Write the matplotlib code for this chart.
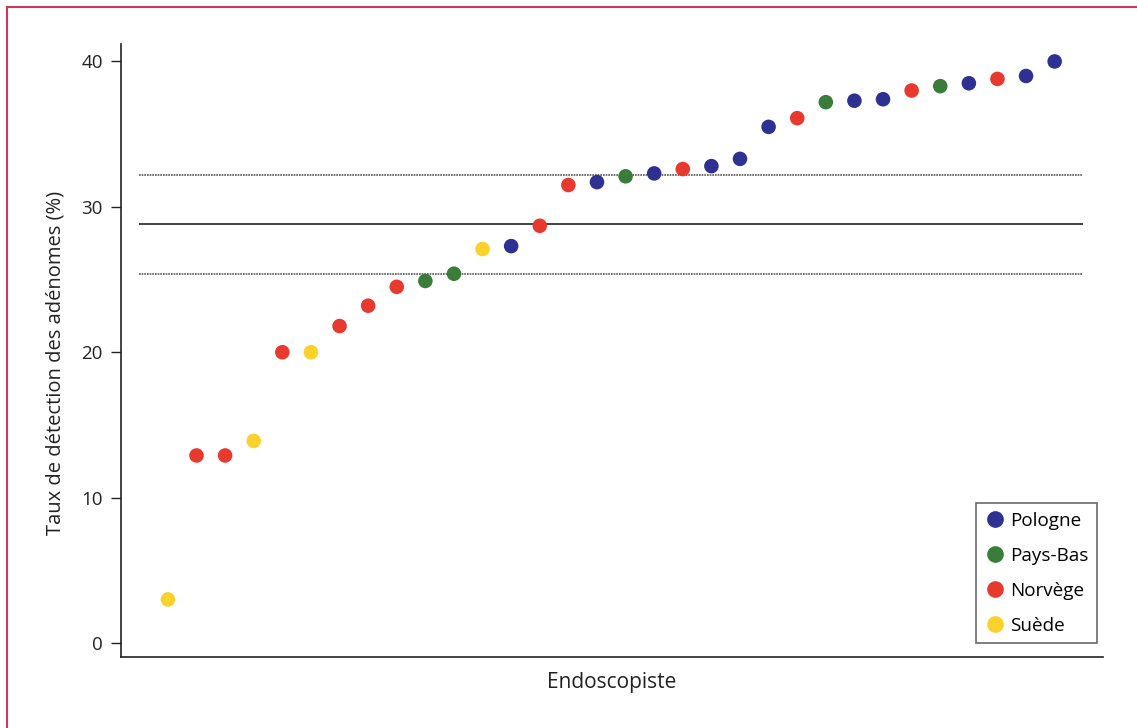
import matplotlib.pyplot as plt
from matplotlib.lines import Line2D

plt.rcParams['font.family'] = ['Open Sans', 'DejaVu Sans']

# taux de detection des adenomes par endoscopiste (%)
taux = [3.0, 12.9, 12.9, 13.9, 20.0, 20.0, 21.8, 23.2, 24.5, 24.9, 25.4, 27.1,
        27.3, 28.7, 31.5, 31.7, 32.1, 32.3, 32.6, 32.8, 33.3, 35.5, 36.1, 37.2,
        37.3, 37.4, 38.0, 38.3, 38.5, 38.8, 39.0, 40.0]
pays = ['Suède', 'Norvège', 'Norvège', 'Suède', 'Norvège', 'Suède', 'Norvège',
        'Norvège', 'Norvège', 'Pays-Bas', 'Pays-Bas', 'Suède', 'Pologne',
        'Norvège', 'Norvège', 'Pologne', 'Pays-Bas', 'Pologne', 'Norvège',
        'Pologne', 'Pologne', 'Pologne', 'Norvège', 'Pays-Bas', 'Pologne',
        'Pologne', 'Norvège', 'Pays-Bas', 'Pologne', 'Norvège', 'Pologne',
        'Pologne']
moyenne = 28.8
ic_bas, ic_haut = 25.4, 32.2

couleurs = {'Pologne': '#2E3192', 'Pays-Bas': '#3A7D3A',
            'Norvège': '#E8392E', 'Suède': '#FBD12B'}
ordre = ['Pologne', 'Pays-Bas', 'Norvège', 'Suède']

fig = plt.figure(figsize=(11.37, 7.28), dpi=100)
ax = fig.add_axes([121/1137, 1 - 657/728, (1103-121)/1137, (657-44)/728])

x = list(range(1, len(taux) + 1))
ax.scatter(x, taux, s=110, c=[couleurs[p] for p in pays], linewidths=0, zorder=3)

ax.hlines(moyenne, 0, 33, color='#222222', lw=1.2)
ax.hlines([ic_bas, ic_haut], 0, 33, color='#555555', lw=1.2, linestyles=(0, (1, 0.6)))

ax.set_xlim(-0.64, 33.69)
ax.set_ylim(-0.96, 41.2)
ax.set_yticks([0, 10, 20, 30, 40])
ax.set_xticks([])
ax.tick_params(axis='y', labelsize=13.5, length=7, width=1, pad=6, colors='#222222')
for s in ['top', 'right']:
    ax.spines[s].set_visible(False)
for s in ['left', 'bottom']:
    ax.spines[s].set_linewidth(1.2)
    ax.spines[s].set_color('#222222')

ax.set_ylabel('Taux de détection des adénomes (%)', fontsize=14.5, color='#222222')
ax.yaxis.set_label_coords(-0.057, 0.48)
ax.set_xlabel('Endoscopiste', fontsize=15, color='#222222', labelpad=11)

handles = [Line2D([], [], marker='o', ls='', color=couleurs[p], markersize=11, label=p)
           for p in ordre]
leg = ax.legend(handles=handles, loc='lower right', bbox_to_anchor=(0.9995, 0.013),
                fontsize=13.6, frameon=True, fancybox=False, edgecolor='#444444',
                handletextpad=0.25, labelspacing=0.9, borderpad=0.45, handlelength=1.1,
                borderaxespad=0.3)
leg.get_frame().set_linewidth(1.2)

# cadre
fig.add_artist(Line2D([7/1137, 7/1137], [0, 1 - 7/728], color='#C8385F', lw=1.5))
fig.add_artist(Line2D([7/1137, 1], [1 - 7/728, 1 - 7/728], color='#C8385F', lw=1.5))

fig.savefig('out.png', dpi=100)
